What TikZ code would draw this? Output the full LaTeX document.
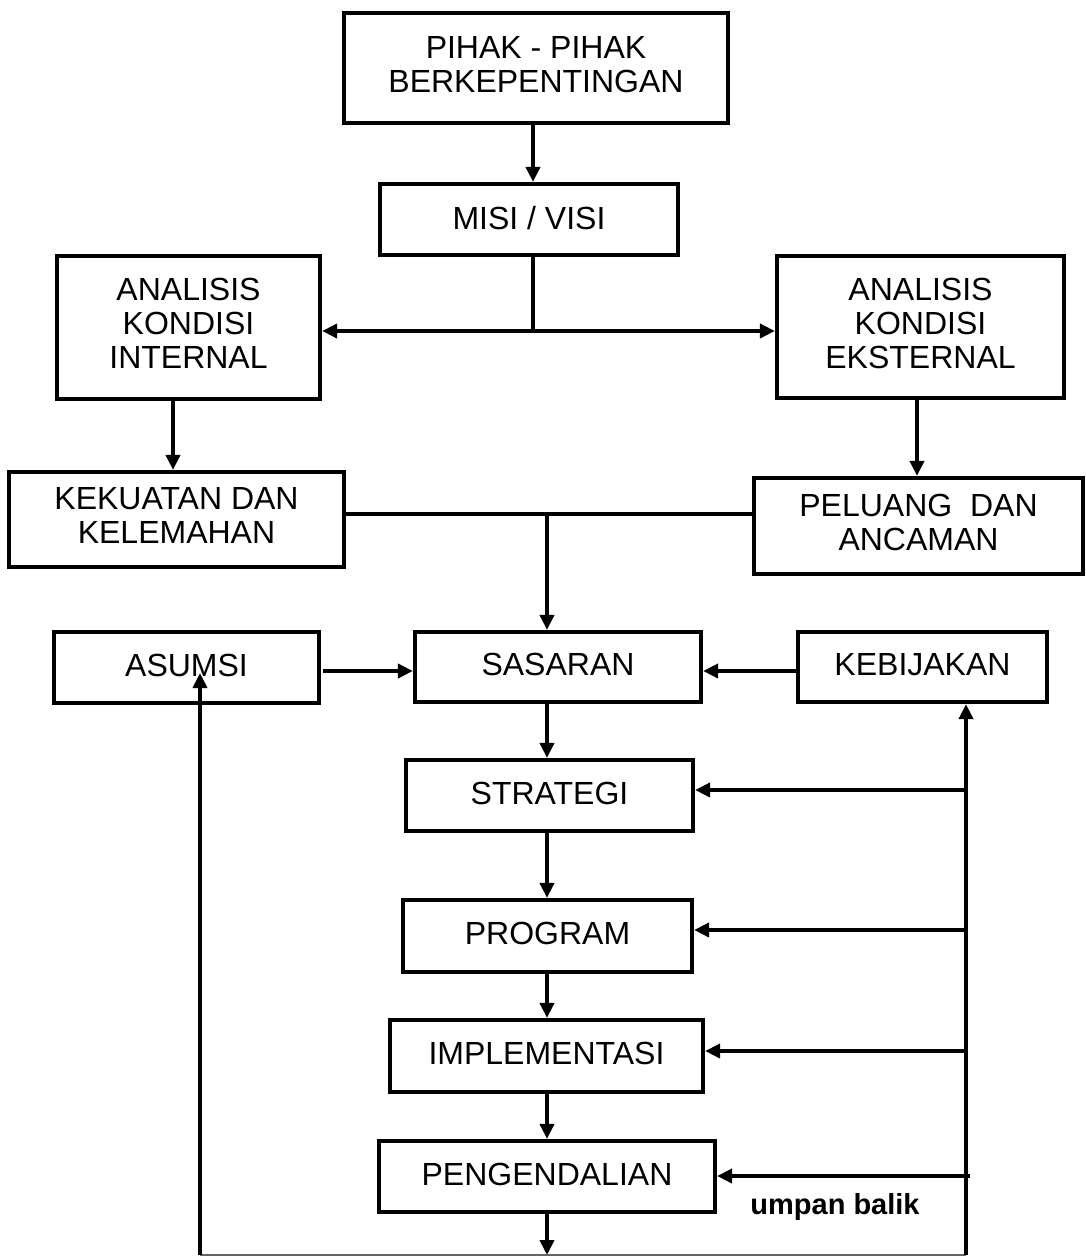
\documentclass[tikz,border=0pt]{standalone}
\usepackage{fontspec}
\setmainfont{Liberation Sans}
\usetikzlibrary{arrows.meta}
\begin{document}
\begin{tikzpicture}[x=1pt,y=-1pt,
  box/.style={draw, line width=4.2pt, align=center, inner sep=0pt,
    font=\fontsize{32}{37}\selectfont},
  arr/.style={line width=4pt, -{Triangle[length=15pt,width=14pt]}},
  ln/.style={line width=4pt},
  lbl/.style={font=\fontsize{29}{34}\selectfont\bfseries}]
\useasboundingbox (0,0) rectangle (1086,1256);
% boxes
\node[box, minimum width=384pt, minimum height=110pt] (pihak) at (536,68) {\raisebox{6pt}{\begin{tabular}{@{}c@{}}PIHAK - PIHAK\\[-3pt]BERKEPENTINGAN\end{tabular}}};
\node[box, minimum width=298pt, minimum height=71pt] (misi) at (529,219.5) {\raisebox{3pt}{MISI / VISI}};
\node[box, minimum width=263pt, minimum height=143pt] (internal) at (188.5,327.5) {\raisebox{4pt}{\begin{tabular}{@{}c@{}}ANALISIS\\[-3pt]KONDISI\\[-3pt]INTERNAL\end{tabular}}};
\node[box, minimum width=287pt, minimum height=142pt] (eksternal) at (920.5,327) {\raisebox{4pt}{\begin{tabular}{@{}c@{}}ANALISIS\\[-3pt]KONDISI\\[-3pt]EKSTERNAL\end{tabular}}};
\node[box, minimum width=335pt, minimum height=95pt] (kekuatan) at (176.5,519.5) {\raisebox{4pt}{\begin{tabular}{@{}c@{}}KEKUATAN DAN\\[-3pt]KELEMAHAN\end{tabular}}};
\node[box, minimum width=329pt, minimum height=96pt] (peluang) at (918.5,526) {\raisebox{4pt}{\begin{tabular}{@{}c@{}}PELUANG~ DAN\\[-3pt]ANCAMAN\end{tabular}}};
\node[box, minimum width=265pt, minimum height=71pt] (asumsi) at (186.5,667.5) {\raisebox{5pt}{ASUMSI}};
\node[box, minimum width=286pt, minimum height=70pt] (sasaran) at (558,667) {\raisebox{5pt}{SASARAN}};
\node[box, minimum width=249pt, minimum height=70pt] (kebijakan) at (922.5,667) {\raisebox{5pt}{KEBIJAKAN}};
\node[box, minimum width=287pt, minimum height=71pt] (strategi) at (549.5,795.5) {\raisebox{5pt}{STRATEGI}};
\node[box, minimum width=289pt, minimum height=72pt] (program) at (547.5,936) {\raisebox{5pt}{PROGRAM}};
\node[box, minimum width=313pt, minimum height=72pt] (implementasi) at (546.5,1056) {\raisebox{5pt}{IMPLEMENTASI}};
\node[box, minimum width=336pt, minimum height=71pt] (pengendalian) at (547,1176.5) {\raisebox{5pt}{PENGENDALIAN}};
\node[lbl] (umpan) at (835,1207) {umpan balik};
% coordinates
\coordinate (jm) at (533,331);
\coordinate (ci) at (173,440);
\coordinate (ce) at (917,440);
\coordinate (js) at (547,514);
\coordinate (ja) at (323,671);
\coordinate (jk) at (797,671);
\coordinate (cx) at (547,730);
\coordinate (lbot) at (200,1255);
\coordinate (ltip) at (200,673);
\coordinate (rbot) at (966,1255);
\coordinate (r1) at (966,790);
\coordinate (r2) at (966,930);
\coordinate (r3) at (966,1051);
\coordinate (r4) at (970,1176);
% top part
\draw[arr] (pihak.south -| jm) -- (misi.north -| jm);
\draw[ln] (misi.south -| jm) -- (jm);
\draw[arr] (jm) -- (jm -| internal.east);
\draw[arr] (jm) -- (jm -| eksternal.west);
\draw[arr] (internal.south -| ci) -- (kekuatan.north -| ci);
\draw[arr] (eksternal.south -| ce) -- (peluang.north -| ce);
\draw[ln] (js -| kekuatan.east) -- (js -| peluang.west);
\draw[arr] (js) -- (js |- sasaran.north);
\draw[arr] (ja) -- (ja -| sasaran.west);
\draw[arr] (jk) -- (jk -| sasaran.east);
% central column
\draw[arr] (sasaran.south -| cx) -- (strategi.north -| cx);
\draw[arr] (strategi.south -| cx) -- (program.north -| cx);
\draw[arr] (program.south -| cx) -- (implementasi.north -| cx);
\draw[arr] (implementasi.south -| cx) -- (pengendalian.north -| cx);
\draw[arr] (pengendalian.south -| cx) -- (lbot -| cx);
% feedback
\draw[line width=2pt, black!60] (lbot) -- (rbot);
\draw[arr] (lbot) -- (ltip);
\draw[arr] (rbot) -- (rbot |- kebijakan.south);
\draw[arr] (r1) -- (r1 -| strategi.east);
\draw[arr] (r2) -- (r2 -| program.east);
\draw[arr] (r3) -- (r3 -| implementasi.east);
\draw[arr] (r4) -- (r4 -| pengendalian.east);
\end{tikzpicture}
\end{document}
